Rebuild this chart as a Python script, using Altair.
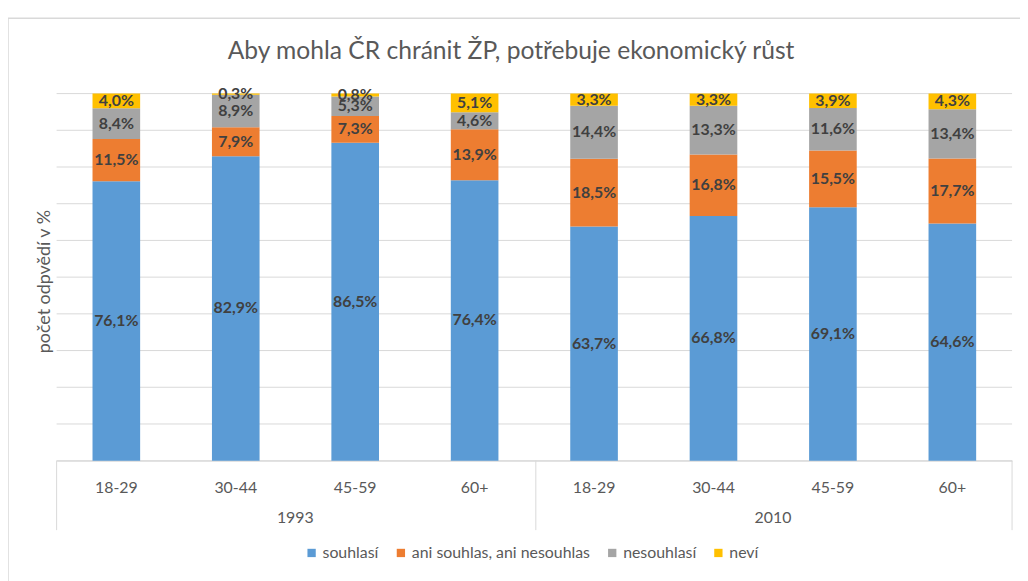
import altair as alt
import pandas as pd

ages = ["18-29", "30-44", "45-59", "60+"]
years = ["1993", "2010"]
series = ["souhlasí", "ani souhlas, ani nesouhlas", "nesouhlasí", "neví"]
colors = ["#5B9BD5", "#ED7D31", "#A5A5A5", "#FFC000"]
title_text = "Aby mohla ČR chránit ŽP, potřebuje ekonomický růst"
grid_vals = [0.0, 0.1, 0.2, 0.3, 0.4, 0.5, 0.6, 0.7, 0.8, 0.9, 1.0]

souhlasi = [76.1, 82.9, 86.5, 76.4, 63.7, 66.8, 69.1, 64.6]
ani = [11.5, 7.9, 7.3, 13.9, 18.5, 16.8, 15.5, 17.7]
nesouhlasi = [8.4, 8.9, 5.3, 4.6, 14.4, 13.3, 11.6, 13.4]
nevi = [4.0, 0.3, 0.8, 5.1, 3.3, 3.3, 3.9, 4.3]

keys = [f"{y} {a}" for y in years for a in ages]
values = [souhlasi, ani, nesouhlasi, nevi]

rows = []
for si, s in enumerate(series):
    for ki, k in enumerate(keys):
        v = values[si][ki]
        rows.append({"key": k, "series": s, "order": si, "value": v,
                     "label": f"{v:.1f}".replace(".", ",") + "%"})
df = pd.DataFrame(rows)

grp = pd.DataFrame({"key": [f"{y} 30-44" for y in years], "year": years})

FONT = "Lato, sans-serif"
GRID = "#d9d9d9"
TXT = "#595959"

xenc = alt.X("key:N", sort=keys,
             scale=alt.Scale(paddingInner=0, paddingOuter=0),
             axis=alt.Axis(title=None, ticks=False, grid=False, domainColor=GRID,
                           labelExpr="split(datum.label, ' ')[1]", labelAngle=0,
                           labelFontSize=16, labelColor=TXT, labelFont=FONT,
                           labelPadding=19))

yscale = alt.Scale(domain=[0, 1], nice=False)

grid = alt.Chart(pd.DataFrame({"g": grid_vals})).mark_rule(
    color=GRID, strokeWidth=1
).encode(
    y=alt.Y("g:Q", scale=yscale,
            axis=alt.Axis(title="počet odpvědí v %", labels=False, ticks=False,
                          domain=False, grid=False,
                          titleFontSize=18, titleColor=TXT, titleFont=FONT,
                          titleFontWeight="normal", titleX=-12, titleY=189,
                          titleAlign="center", titleBaseline="middle")),
    x=alt.value(0), x2=alt.value(963),
)

base = alt.Chart(df).transform_stack(
    stack="value", as_=["y0", "y1"], groupby=["key"],
    sort=[alt.SortField("order", order="ascending")], offset="normalize"
).transform_calculate(mid="(datum.y0 + datum.y1) / 2")

bars = base.mark_bar(size=48).encode(
    x=xenc,
    y=alt.Y("y0:Q", scale=yscale),
    y2="y1",
    color=alt.Color("series:N", sort=series,
                    scale=alt.Scale(domain=series, range=colors),
                    legend=alt.Legend(title=None, orient="none", direction="horizontal",
                                      legendX=249, legendY=455, symbolType="square",
                                      symbolSize=70, symbolStrokeWidth=0,
                                      labelFontSize=16, labelColor=TXT, labelFont=FONT,
                                      labelLimit=400, columnPadding=14, labelOffset=3)),
    order=alt.Order("order:Q"),
)

labels = base.mark_text(fontSize=16, fontWeight="bold", color="#404040", font=FONT).encode(
    x=alt.X("key:N", sort=keys), y=alt.Y("mid:Q"), text="label:N"
)

grp_text = alt.Chart(grp).mark_text(dx=60, fontSize=16, color=TXT, font=FONT).encode(
    x=alt.X("key:N", sort=keys), y=alt.value(428), text="year:N"
)

sep_df = pd.DataFrame({"pos": [0, 483, 963]})
seps = alt.Chart(sep_df).mark_rule(color=GRID, strokeWidth=1).encode(
    x=alt.X("pos:Q", scale=None), y=alt.value(370), y2=alt.value(440)
)

border = alt.Chart(pd.DataFrame({"a": [0]})).mark_rect(
    fill="transparent", fillOpacity=0, stroke=GRID, strokeWidth=1.5
).encode(x=alt.value(-49), x2=alt.value(1100), y=alt.value(-76), y2=alt.value(700))

title = alt.Chart(pd.DataFrame({"t": [title_text]})).mark_text(
    fontSize=24.8, color=TXT, font=FONT, align="center", baseline="middle"
).encode(x=alt.value(458), y=alt.value(-42), text="t:N")

chart = alt.layer(grid, bars, labels, grp_text, seps, title, border).resolve_scale(
    x="shared", y="shared"
).properties(
    width=963, height=370,
    autosize=alt.AutoSizeParams(type="none"),
    padding={"left": 49, "top": 84, "right": 8, "bottom": 119},
).configure_view(stroke=None)

chart.save("out.html", embed_options={"renderer": "svg", "actions": False})
